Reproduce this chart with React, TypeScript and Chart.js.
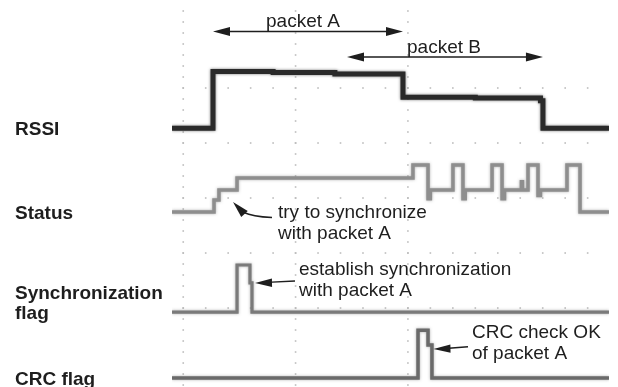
import { useEffect, useRef } from 'react';
import { Chart, registerables } from 'chart.js';

Chart.register(...registerables);

// ---- time axis (oscilloscope divisions) ----
const X_MIN = -0.1;
const X_MAX = 3.79;
const Y_MIN = -0.436;
const Y_MAX = 6.6;
const X_GRID = [0, 1, 2];
const Y_GRID = [1, 2, 3, 4, 5];

// ---- channel labels ----
const CHANNELS = ['RSSI', 'Status', 'Synchronization\nflag', 'CRC flag'];
const CHANNEL_BASE = [4.27, 2.745, 0.927, -0.273];

// ---- RSSI trace (level relative to its baseline, step changes) ----
const RSSI_T = [-0.1, 0.265, 0.8, 1.35, 1.956, 2.6, 3.18, 3.202, 3.79];
const RSSI_V = [0, 1.03, 1.01, 0.985, 0.56, 0.55, 0.5, 0, 0];

// ---- Status trace ----
const STATUS_T = [-0.1, 0.274, 0.318, 0.479, 2.045, 2.179, 2.2, 2.401, 2.49, 2.51, 2.749, 2.838, 2.86, 3.01, 3.02, 3.069, 3.158, 3.18, 3.416, 3.532, 3.79];
const STATUS_V = [0, 0.22, 0.4, 0.62, 0.855, 0.24, 0.4, 0.855, 0.24, 0.4, 0.855, 0.24, 0.4, 0.55, 0.4, 0.855, 0.3, 0.4, 0.855, 0, 0];

// ---- Synchronization flag ----
const SYNC_T = [-0.1, 0.479, 0.594, 0.612, 3.79];
const SYNC_V = [0, 0.855, 0.53, 0, 0];

// ---- CRC flag ----
const CRC_T = [-0.1, 2.09, 2.179, 2.214, 3.79];
const CRC_V = [0, 0.87, 0.6, 0, 0];

// ---- packets ----
const PACKET_LABELS = ['packet A', 'packet B'];
const PACKET_START = [0.265, 1.458];
const PACKET_END = [1.956, 3.202];

const FONT = '"Liberation Sans", Arial, Helvetica, sans-serif';

function pts(ts: number[], vs: number[], base: number) {
  return ts.map((t, i) => ({ x: t, y: base + vs[i] }));
}

function arrowHead(ctx: CanvasRenderingContext2D, bx: number, by: number, tx: number, ty: number, half: number) {
  const dx = tx - bx;
  const dy = ty - by;
  const len = Math.hypot(dx, dy) || 1;
  const nx = -dy / len;
  const ny = dx / len;
  ctx.beginPath();
  ctx.moveTo(tx, ty);
  ctx.lineTo(bx + nx * half, by + ny * half);
  ctx.lineTo(bx - nx * half, by - ny * half);
  ctx.closePath();
  ctx.fill();
}

const decor = {
  id: 'scopeDecor',
  beforeDatasetsDraw(chart: any) {
    const { ctx, chartArea: a } = chart;
    const xs = chart.scales.x;
    const ys = chart.scales.y;
    ctx.save();
    ctx.fillStyle = '#bdbdbd';
    for (const g of X_GRID) {
      const px = xs.getPixelForValue(g);
      for (let v = Y_GRID[0] - 7 * 0.2; v <= Y_MAX; v += 0.2) {
        const py = ys.getPixelForValue(v);
        if (py < a.top || py > a.bottom) continue;
        ctx.fillRect(px - 0.8, py - 0.8, 1.6, 1.6);
      }
    }
    for (const g of Y_GRID) {
      const py = ys.getPixelForValue(g);
      for (let t = 0; t <= X_MAX; t += 0.2) {
        ctx.fillRect(xs.getPixelForValue(t) - 0.8, py - 0.8, 1.6, 1.6);
      }
      for (let t = -0.2; t >= X_MIN; t -= 0.2) {
        ctx.fillRect(xs.getPixelForValue(t) - 0.8, py - 0.8, 1.6, 1.6);
      }
    }
    ctx.restore();
  },
  beforeDatasetDraw(chart: any, args: any) {
    const ctx = chart.ctx;
    ctx.save();
    ctx.shadowColor = args.index === 0 ? 'rgba(0,0,0,0.55)' : 'rgba(90,90,90,0.5)';
    ctx.shadowBlur = 3;
  },
  afterDatasetDraw(chart: any) {
    chart.ctx.restore();
  },
  afterDatasetsDraw(chart: any) {
    const { ctx } = chart;
    const xs = chart.scales.x;
    const ys = chart.scales.y;
    ctx.save();
    ctx.fillStyle = '#1e1e1e';
    ctx.strokeStyle = '#1e1e1e';
    ctx.textBaseline = 'alphabetic';

    // channel labels
    ctx.font = `bold 19px ${FONT}`;
    ctx.textAlign = 'left';
    CHANNELS.forEach((label, i) => {
      const lines = label.split('\n');
      const base = ys.getPixelForValue(CHANNEL_BASE[i]) + 6.5;
      lines.forEach((ln, j) => {
        ctx.fillText(ln, 15, base - (lines.length - 1 - j) * 19.5);
      });
    });

    // packet arrows
    const packetY = [31.5, 57];
    const labelShift = [-5, -1];
    ctx.font = `19px ${FONT}`;
    ctx.lineWidth = 1.5;
    PACKET_LABELS.forEach((label, i) => {
      const x1 = xs.getPixelForValue(PACKET_START[i]);
      const x2 = xs.getPixelForValue(PACKET_END[i]);
      const y = packetY[i];
      ctx.beginPath();
      ctx.moveTo(x1 + 10, y);
      ctx.lineTo(x2 - 10, y);
      ctx.stroke();
      arrowHead(ctx, x1 + 17, y, x1, y, 4.5);
      arrowHead(ctx, x2 - 17, y, x2, y, 4.5);
      ctx.textAlign = 'center';
      ctx.fillText(label, (x1 + x2) / 2 + labelShift[i], y - 4.5);
    });

    // annotations
    ctx.textAlign = 'left';
    ctx.fillText('try to synchronize', 278, 218);
    ctx.fillText('with packet A', 278, 238.5);
    ctx.fillText('establish synchronization', 299, 275);
    ctx.fillText('with packet A', 299, 295.5);
    ctx.fillText('CRC check OK', 472, 338);
    ctx.fillText('of packet A', 472, 359);

    ctx.lineWidth = 1.4;
    // curved arrow (try to synchronize)
    ctx.beginPath();
    ctx.moveTo(272, 217.5);
    ctx.quadraticCurveTo(252, 216.5, 244, 212.5);
    ctx.stroke();
    arrowHead(ctx, 244.5, 214, 233, 202, 4.5);

    // establish synchronization arrow
    const syncTipX = xs.getPixelForValue(SYNC_T[3]) + 3;
    ctx.beginPath();
    ctx.moveTo(295, 281);
    ctx.lineTo(syncTipX + 12, 282.4);
    ctx.stroke();
    arrowHead(ctx, syncTipX + 17, 282.7, syncTipX, 283, 4.2);

    // CRC arrow
    const crcTipX = xs.getPixelForValue(CRC_T[3]) + 1.5;
    ctx.beginPath();
    ctx.moveTo(468, 346.7);
    ctx.lineTo(crcTipX + 12, 348.5);
    ctx.stroke();
    arrowHead(ctx, crcTipX + 17, 348.6, crcTipX, 349, 4.2);

    ctx.restore();
  },
};

export default function App() {
  const ref = useRef<HTMLCanvasElement | null>(null);
  useEffect(() => {
    if (!ref.current) return;
    const common = {
      stepped: 'before' as const,
      pointRadius: 0,
      borderJoinStyle: 'miter' as const,
      borderCapStyle: 'butt' as const,
      fill: false,
    };
    const chart = new Chart(ref.current, {
      type: 'line',
      data: {
        datasets: [
          { ...common, label: 'RSSI', data: pts(RSSI_T, RSSI_V, CHANNEL_BASE[0]), borderColor: '#2a2a2a', borderWidth: 5 },
          { ...common, label: 'Status', data: pts(STATUS_T, STATUS_V, CHANNEL_BASE[1]), borderColor: '#8e8e8e', borderWidth: 3.5 },
          { ...common, label: 'Synchronization flag', data: pts(SYNC_T, SYNC_V, CHANNEL_BASE[2]), borderColor: '#7a7a7a', borderWidth: 3.2 },
          { ...common, label: 'CRC flag', data: pts(CRC_T, CRC_V, CHANNEL_BASE[3]), borderColor: '#6a6a6a', borderWidth: 3.5 },
        ],
      },
      options: {
        responsive: false,
        animation: false,
        events: [],
        layout: { padding: { left: 172, right: 9, top: 0, bottom: 0 } },
        plugins: { legend: { display: false }, tooltip: { enabled: false } },
        scales: {
          x: { type: 'linear', min: X_MIN, max: X_MAX, display: false },
          y: { type: 'linear', min: Y_MIN, max: Y_MAX, display: false },
        },
      },
      plugins: [decor],
    });
    return () => chart.destroy();
  }, []);
  return (
    <div style={{ position: 'absolute', left: 0, top: 0, width: 618, height: 387, background: '#fff' }}>
      <canvas ref={ref} width={618} height={387} style={{ display: 'block' }} />
    </div>
  );
}
